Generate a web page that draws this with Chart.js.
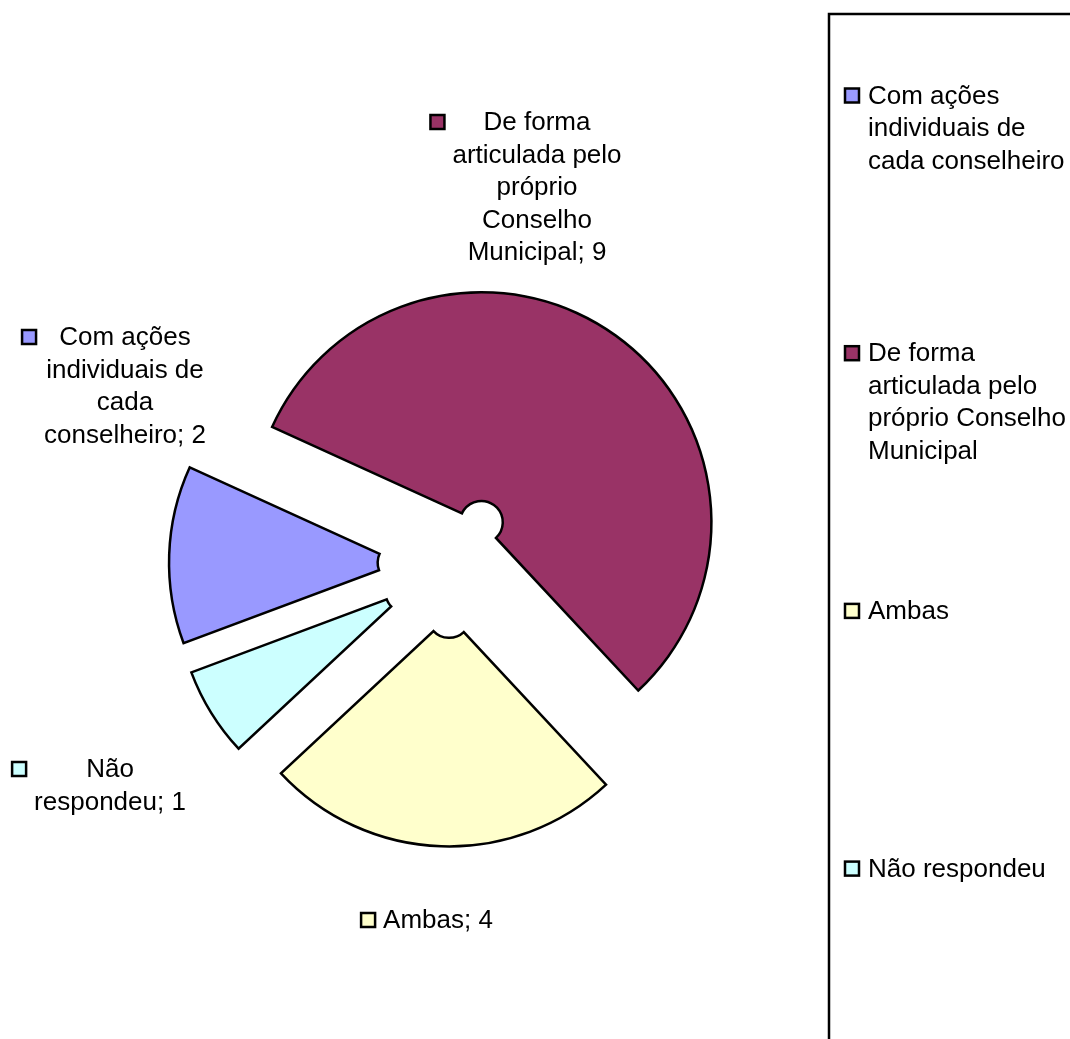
<!DOCTYPE html>
<html>
<head>
<meta charset="utf-8">
<script src="https://cdn.jsdelivr.net/npm/chart.js@4.4.0/dist/chart.umd.min.js"></script>
<style>
html,body{margin:0;padding:0;background:#ffffff;}
#wrap{width:1070px;height:1039px;position:relative;}
</style>
</head>
<body>
<div id="wrap"><canvas id="c"></canvas></div>
<script>
// ---- data ----
const categories = [
  'Com ações individuais de cada conselheiro',
  'De forma articulada pelo próprio Conselho Municipal',
  'Ambas',
  'Não respondeu'
];
const values = [2, 9, 4, 1];
const sliceColors = ['#9999FF', '#993366', '#FFFFCC', '#CCFFFF'];

// ---- layout / style ----
const FONT = '26px "Liberation Sans", Arial, Helvetica, sans-serif';
const LINE_H = 32.5;
const EXPLODE = 52;
const LABEL_WRAP = 180;
const LEGEND_WRAP = 205;
const SW = 14;       // swatch inner size
const SW_GAP = 7;
// label block: dx = horizontal centre offset from pie centre, dy = first baseline offset
const labelLayout = [
  {dx: -326, dy: -219.5},
  {dx: 86,   dy: -434.5},
  {dx: -13,  dy: 363.5},
  {dx: -341, dy: 212.5}
];
const legendBox = {x: 829, y: 14, textX: 868, swX: 845, firstBaseline: 103.5, step: 257.7};

// exploded slices: move every slice outward along its mid angle
const Arc = Chart.ArcElement || (Chart.elements && Chart.elements.ArcElement);
const origDraw = Arc.prototype.draw;
Arc.prototype.draw = function (ctx) {
  const a = (this.startAngle + this.endAngle) / 2;
  ctx.save();
  ctx.translate(Math.cos(a) * EXPLODE, Math.sin(a) * EXPLODE);
  origDraw.call(this, ctx);
  ctx.restore();
};

function wrap(ctx, text, maxW) {
  const words = text.split(' ');
  const lines = [];
  let cur = '';
  for (const w of words) {
    const t = cur ? cur + ' ' + w : w;
    if (!cur || ctx.measureText(t).width <= maxW) cur = t;
    else { lines.push(cur); cur = w; }
  }
  if (cur) lines.push(cur);
  return lines;
}

function swatch(ctx, x, y, color) {
  ctx.save();
  ctx.fillStyle = color;
  ctx.fillRect(x, y, SW, SW);
  ctx.lineWidth = 2.5;
  ctx.strokeStyle = '#000';
  ctx.strokeRect(x, y, SW, SW);
  ctx.restore();
}

const labelPlugin = {
  id: 'sliceLabels',
  afterDatasetsDraw(chart) {
    const ctx = chart.ctx;
    const meta = chart.getDatasetMeta(0);
    ctx.save();
    ctx.font = FONT;
    ctx.fillStyle = '#000';
    ctx.textBaseline = 'alphabetic';
    meta.data.forEach((arc, i) => {
      const cx = arc.x + labelLayout[i].dx;
      const y0 = arc.y + labelLayout[i].dy;
      const lines = wrap(ctx, categories[i] + '; ' + values[i], LABEL_WRAP);
      let maxW = 0;
      lines.forEach(l => { maxW = Math.max(maxW, ctx.measureText(l).width); });
      ctx.textAlign = 'center';
      lines.forEach((l, j) => ctx.fillText(l, cx, y0 + j * LINE_H));
      const left = cx - maxW / 2;
      swatch(ctx, left - SW_GAP - SW - 1, y0 - SW - 1, sliceColors[i]);
    });
    ctx.restore();
  }
};

const legendPlugin = {
  id: 'boxLegend',
  afterDraw(chart) {
    const ctx = chart.ctx;
    ctx.save();
    ctx.lineWidth = 2.5;
    ctx.strokeStyle = '#000';
    ctx.strokeRect(legendBox.x, legendBox.y, 600, 1200);
    ctx.font = FONT;
    ctx.fillStyle = '#000';
    ctx.textAlign = 'left';
    ctx.textBaseline = 'alphabetic';
    categories.forEach((c, i) => {
      const b = legendBox.firstBaseline + i * legendBox.step;
      const lines = wrap(ctx, c, LEGEND_WRAP);
      lines.forEach((l, j) => ctx.fillText(l, legendBox.textX, b + j * LINE_H));
      swatch(ctx, legendBox.swX, b - SW - 1, sliceColors[i]);
      ctx.fillStyle = '#000';
    });
    ctx.restore();
  }
};

new Chart(document.getElementById('c'), {
  type: 'doughnut',
  data: {
    labels: categories,
    datasets: [{
      data: values,
      backgroundColor: sliceColors,
      borderColor: '#000000',
      borderWidth: 2.5,
      borderJoinStyle: 'miter',
      hoverOffset: 0
    }]
  },
  options: {
    responsive: true,
    maintainAspectRatio: false,
    animation: false,
    rotation: 249.5,
    cutout: '9.3%',
    radius: 230,
    layout: {padding: {left: 0, right: 168, top: 90, bottom: 0}},
    plugins: {
      legend: {display: false},
      tooltip: {enabled: false}
    },
    events: []
  },
  plugins: [labelPlugin, legendPlugin]
});
</script>
</body>
</html>
